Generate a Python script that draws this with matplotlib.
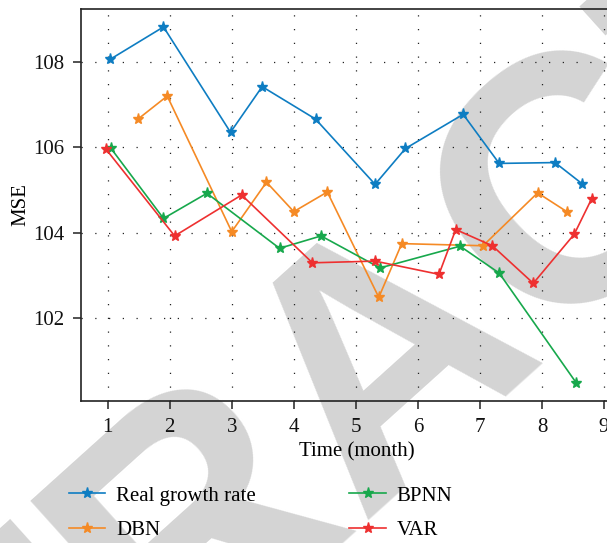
import matplotlib
matplotlib.use("Agg")
import matplotlib.pyplot as plt

# Monthly MSE series
real_x = [1.04, 1.90, 2.98, 3.49, 4.35, 5.31, 5.80, 6.73, 7.31, 8.21, 8.65]
real_y = [108.06, 108.82, 106.35, 107.42, 106.66, 105.13, 105.97, 106.77, 105.62, 105.64, 105.14]

dbn_x = [1.49, 1.96, 3.00, 3.56, 4.00, 4.54, 5.37, 5.74, 7.05, 7.93, 8.41]
dbn_y = [106.66, 107.20, 104.02, 105.18, 104.49, 104.95, 102.48, 103.74, 103.69, 104.93, 104.48]

bpnn_x = [1.05, 1.90, 2.60, 3.77, 4.44, 5.39, 6.68, 7.31, 8.55]
bpnn_y = [105.98, 104.33, 104.92, 103.63, 103.92, 103.17, 103.68, 103.05, 100.48]

var_x = [0.97, 2.08, 3.16, 4.30, 5.31, 6.34, 6.61, 7.20, 7.86, 8.52, 8.80]
var_y = [105.96, 103.92, 104.88, 103.29, 103.33, 103.02, 104.07, 103.69, 102.81, 103.96, 104.79]

x_ticks = [1, 2, 3, 4, 5, 6, 7, 8, 9]
y_ticks = [102, 104, 106, 108]

plt.rcParams['font.family'] = ['Liberation Serif', 'DejaVu Serif']
plt.rcParams['font.size'] = 15

fig = plt.figure(figsize=(6.07, 5.43), dpi=100)
ax = fig.add_axes([0.1334, 0.2615, 0.9077, 0.7219])
ax.set_facecolor('none')

# Retraction watermark behind the axes content
fig.text(0.6425, 0.341, "RETRACTED", fontsize=252, fontweight='bold',
         family='Liberation Sans', color='#d4d4d4', rotation=42,
         rotation_mode='anchor', ha='center', va='center', zorder=-1)

series = [
    (real_x, real_y, '#0e7dc2', 'Real growth rate'),
    (dbn_x, dbn_y, '#f58a25', 'DBN'),
    (bpnn_x, bpnn_y, '#17a84c', 'BPNN'),
    (var_x, var_y, '#ee3030', 'VAR'),
]
for xs, ys, c, lab in series:
    ax.plot(xs, ys, color=c, lw=1.2, marker='*', markersize=8, label=lab)

ax.set_xlim(0.57, 9.45)
ax.set_ylim(100.05, 109.24)
ax.set_xticks(x_ticks)
ax.set_yticks(y_ticks)
ax.grid(True, color='#222222', linestyle=(0, (1, 10)), linewidth=0.9)
ax.tick_params(direction='out', length=6, width=1.1, colors='#222222',
               labelcolor='#111111', labelsize=15, pad=6)
ax.spines['right'].set_visible(False)
for s in ('left', 'top', 'bottom'):
    ax.spines[s].set_linewidth(1.2)
    ax.spines[s].set_color('#222222')

ax.set_xlabel('Time (month)', fontsize=15, labelpad=4)
ax.set_ylabel('MSE', fontsize=15, labelpad=2)

handles, labels = ax.get_legend_handles_labels()
fig.legend(handles, labels, ncol=2, frameon=False, loc='upper left',
           bbox_to_anchor=(0.1, 0.12), handlelength=1.75,
           handletextpad=0.5, columnspacing=4.5, labelspacing=0.7,
           fontsize=15, borderaxespad=0)

fig.savefig('out.png', dpi=100)
